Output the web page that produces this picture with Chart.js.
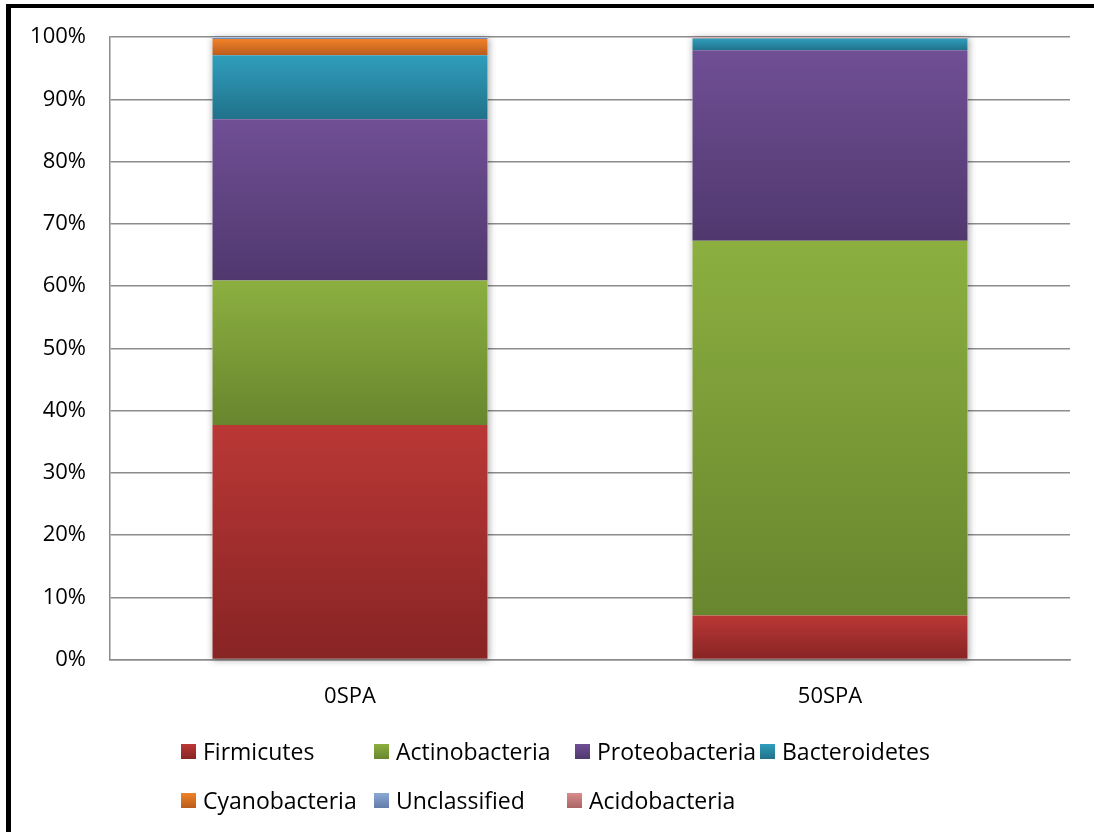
<!DOCTYPE html>
<html>
<head>
<meta charset="utf-8">
<script src="https://cdn.jsdelivr.net/npm/chart.js@4.4.1/dist/chart.umd.min.js"></script>
<style>
  html, body { margin: 0; padding: 0; background: #fff; }
  #wrap { position: relative; width: 1094px; height: 832px; overflow: hidden; font-family: "Open Sans", sans-serif; }
  #frame { position: absolute; left: 6px; top: 4px; width: 1200px; height: 900px; border-left: 5px solid #000; border-top: 4px solid #000; box-sizing: border-box; pointer-events: none; }
  #chart { position: absolute; left: 0; top: 0; }
  .legend-row { position: absolute; left: 181px; display: flex; white-space: nowrap; }
  .legend-row.r1 { top: 736px; }
  .legend-row.r2 { top: 785px; }
  .legend-item { display: flex; align-items: center; height: 30px; font-size: 23px; color: #000; }
  .legend-item .box { width: 15px; height: 15px; margin-right: 7px; }
  .r1 .legend-item:nth-child(1) { width: 193px; }
  .r1 .legend-item:nth-child(2) { width: 201px; }
  .r1 .legend-item:nth-child(3) { width: 185px; }
  .r2 .legend-item:nth-child(1) { width: 193px; }
  .r2 .legend-item:nth-child(2) { width: 193px; }
</style>
</head>
<body>
<div id="wrap">
  <canvas id="chart" width="1094" height="832"></canvas>
  <div id="frame"></div>
  <div class="legend-row r1" id="legendRow1"></div>
  <div class="legend-row r2" id="legendRow2"></div>
</div>
<script>
// sample groups and phyla (percent of reads)
const categories = ['0SPA', '50SPA'];
const phyla = ['Firmicutes', 'Actinobacteria', 'Proteobacteria', 'Bacteroidetes',
               'Cyanobacteria', 'Unclassified', 'Acidobacteria'];

const firmicutes     = [37.7, 7.1];
const actinobacteria = [23.2, 60.2];
const proteobacteria = [25.9, 30.6];
const bacteroidetes  = [10.3, 1.9];
const cyanobacteria  = [2.6, 0.0];
const unclassified   = [0.3, 0.0];
const acidobacteria  = [0.0, 0.2];

const yTickStep = 10;

const series = [firmicutes, actinobacteria, proteobacteria, bacteroidetes,
                cyanobacteria, unclassified, acidobacteria];

// top / bottom of the excel-style gradient for each phylum
const topColors    = ['rgb(186,56,54)', 'rgb(140,175,64)', 'rgb(112,79,149)', 'rgb(47,158,188)',
                      'rgb(240,130,40)', 'rgb(139,168,214)', 'rgb(217,140,140)'];
const bottomColors = ['rgb(135,36,36)', 'rgb(104,134,46)', 'rgb(80,56,110)', 'rgb(33,113,138)',
                      'rgb(185,92,28)', 'rgb(100,125,170)', 'rgb(170,100,100)'];

const FONT = "'Open Sans', sans-serif";
const GRID = '#8c8c8c';

function segmentFill(c) {
    const i = c.datasetIndex;
    const chart = c.chart;
    const yScale = chart.scales.y;
    if (c.type !== 'data' || !chart.chartArea || !yScale) {
        return topColors[i];
    }
    let base = 0;
    for (let d = 0; d < i; d++) {
        base += series[d][c.dataIndex];
    }
    const top = base + series[i][c.dataIndex];
    const y0 = yScale.getPixelForValue(top);
    const y1 = yScale.getPixelForValue(base);
    if (!(y1 > y0)) {
        return topColors[i];
    }
    const g = chart.ctx.createLinearGradient(0, y0, 0, y1);
    g.addColorStop(0, topColors[i]);
    g.addColorStop(1, bottomColors[i]);
    return g;
}

// soft shadow behind each whole stacked column
const barShadow = {
    id: 'barShadow',
    beforeDatasetsDraw(chart) {
        const ctx = chart.ctx;
        const n = chart.data.datasets.length;
        ctx.save();
        ctx.shadowColor = 'rgba(0,0,0,0.35)';
        ctx.shadowBlur = 7;
        ctx.shadowOffsetX = 1;
        ctx.shadowOffsetY = 1;
        ctx.fillStyle = '#fff';
        chart.getDatasetMeta(0).data.forEach(function (bar, idx) {
            let top = bar.base;
            for (let k = 0; k < n; k++) {
                top = Math.min(top, chart.getDatasetMeta(k).data[idx].y);
            }
            ctx.fillRect(bar.x - bar.width / 2, top, bar.width, bar.base - top);
        });
        ctx.restore();
    }
};

const datasets = phyla.map(function (name, i) {
    return {
        label: name,
        data: series[i],
        backgroundColor: segmentFill,
        borderWidth: 0,
        categoryPercentage: 1.0,
        barPercentage: 0.573
    };
});

new Chart(document.getElementById('chart'), {
    type: 'bar',
    data: {
        labels: categories,
        datasets: datasets
    },
    plugins: [barShadow],
    options: {
        responsive: false,
        animation: false,
        layout: {
            padding: { top: 36, left: 30, right: 24, bottom: 98 }
        },
        plugins: {
            legend: { display: false },
            tooltip: { enabled: false }
        },
        scales: {
            x: {
                stacked: true,
                grid: { display: false, drawTicks: false },
                border: { display: true, color: GRID, width: 1.5 },
                ticks: { color: '#000', padding: 24, font: { family: FONT, size: 22 } }
            },
            y: {
                stacked: true,
                min: 0,
                max: 100,
                grid: { color: GRID, lineWidth: 1.5, drawTicks: false },
                border: { display: true, color: GRID, width: 1.5 },
                ticks: {
                    stepSize: yTickStep,
                    color: '#000',
                    padding: 24,
                    font: { family: FONT, size: 22 },
                    callback: function (v) { return v + '%'; }
                },
                afterFit: function (scale) { scale.width = 80; }
            }
        }
    }
});

// html legend, laid out in two rows like the excel legend
$legend();
function $legend() {
    const rows = [document.getElementById('legendRow1'), document.getElementById('legendRow2')];
    phyla.forEach(function (name, i) {
        const item = document.createElement('div');
        item.className = 'legend-item';
        const box = document.createElement('span');
        box.className = 'box';
        box.style.background = 'linear-gradient(' + topColors[i] + ', ' + bottomColors[i] + ')';
        const text = document.createElement('span');
        text.textContent = name;
        item.appendChild(box);
        item.appendChild(text);
        rows[i < 4 ? 0 : 1].appendChild(item);
    });
}
</script>
</body>
</html>
